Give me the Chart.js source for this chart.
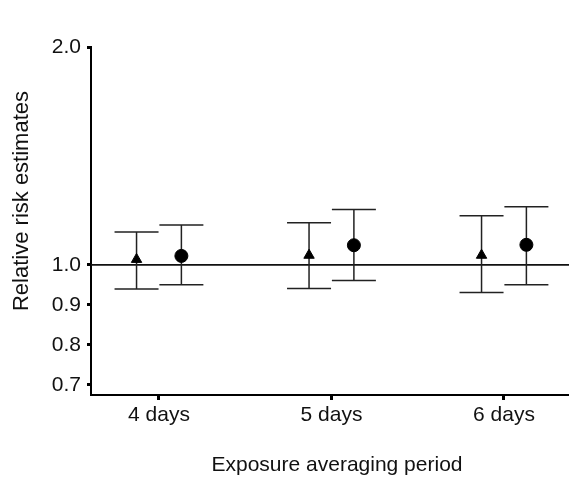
<!DOCTYPE html>
<html>
<head>
<meta charset="utf-8">
<title>Relative risk estimates by exposure averaging period</title>
<script src="https://cdn.jsdelivr.net/npm/chart.js@4"></script>
<style>
  html, body { margin: 0; padding: 0; background: #fff; }
  #rrChart { display: block; }
</style>
</head>
<body>
<canvas id="rrChart" width="569" height="478"></canvas>
<script>
// Averaging periods (x) and their labels
const days = [4, 5, 6];
const dayLabels = ['4 days', '5 days', '6 days'];

// Triangle series: estimate with lower / upper limits
const triEst = [1.025, 1.044, 1.044];
const triLow = [0.94, 0.941, 0.931];
const triHigh = [1.151, 1.193, 1.225];

// Circle series: estimate with lower / upper limits
const dotEst = [1.041, 1.090, 1.092];
const dotLow = [0.95, 0.961, 0.95];
const dotHigh = [1.183, 1.254, 1.267];

// Y axis tick values and the no-effect line
const yTicks = [0.7, 0.8, 0.9, 1.0, 2.0];
const referenceRR = 1.0;

const groupOffset = 0.13;   // how far each series sits from its period, in days
const FONT = "'Liberation Sans', Arial, sans-serif";

// Y axis is split at 1.0: the part below 1.0 is stretched out
class SplitScale extends Chart.LinearScale {
    getPixelForValue(value) {
        const br = 1.0, share = 0.374;
        let d;
        if (value <= br) {
            d = (value - this.min) / (br - this.min) * share;
        } else {
            d = share + (value - br) / (this.max - br) * (1 - share);
        }
        return this.getPixelForDecimal(d);
    }

    getValueForPixel(pixel) {
        const br = 1.0, share = 0.374;
        const d = this.getDecimalForPixel(pixel);
        if (d <= share) return this.min + d / share * (br - this.min);
        return br + (d - share) / (1 - share) * (this.max - br);
    }
}
SplitScale.id = 'split';
SplitScale.defaults = Chart.LinearScale.defaults;
Chart.register(SplitScale);

// Confidence intervals with end caps, and the reference line at 1.0
const errorBarPlugin = {
    id: 'errorBars',
    beforeDatasetsDraw(chart) {
        const { ctx, chartArea, scales: { y } } = chart;
        const refY = y.getPixelForValue(referenceRR);
        ctx.save();
        ctx.strokeStyle = '#111';
        ctx.lineWidth = 1.6;
        ctx.beginPath();
        ctx.moveTo(chartArea.left, refY);
        ctx.lineTo(chartArea.right, refY);
        ctx.stroke();

        const limits = [[triLow, triHigh], [dotLow, dotHigh]];
        const capHalf = 22;
        ctx.strokeStyle = '#222';
        ctx.lineWidth = 1.5;
        chart.data.datasets.forEach((ds, di) => {
            const meta = chart.getDatasetMeta(di);
            const [low, high] = limits[di];
            meta.data.forEach((pt, i) => {
                const x = pt.x;
                const yLow = y.getPixelForValue(low[i]);
                const yHigh = y.getPixelForValue(high[i]);
                ctx.beginPath();
                ctx.moveTo(x, yLow);
                ctx.lineTo(x, yHigh);
                ctx.moveTo(x - capHalf, yHigh);
                ctx.lineTo(x + capHalf, yHigh);
                ctx.moveTo(x - capHalf, yLow);
                ctx.lineTo(x + capHalf, yLow);
                ctx.stroke();
            });
        });
        ctx.restore();
    }
};

// Axis titles placed as in the original figure
const axisTitlePlugin = {
    id: 'axisTitles',
    afterDraw(chart) {
        const { ctx } = chart;
        ctx.save();
        ctx.fillStyle = '#111';
        ctx.textAlign = 'center';
        ctx.textBaseline = 'middle';
        ctx.font = '21px ' + FONT;
        ctx.fillText('Exposure averaging period', 337, 465);
        ctx.font = '22px ' + FONT;
        ctx.translate(22, 201);
        ctx.rotate(-Math.PI / 2);
        ctx.fillText('Relative risk estimates', 0, 0);
        ctx.restore();
    }
};

const ctx = document.getElementById('rrChart');
new Chart(ctx, {
    type: 'scatter',
    data: {
        datasets: [
            {
                label: 'Triangle',
                data: days.map((d, i) => ({ x: d - groupOffset, y: triEst[i] })),
                pointStyle: 'triangle',
                pointRadius: 6,
                backgroundColor: '#000',
                borderColor: '#000',
                borderWidth: 1
            },
            {
                label: 'Circle',
                data: days.map((d, i) => ({ x: d + groupOffset, y: dotEst[i] })),
                pointStyle: 'circle',
                pointRadius: 6.5,
                backgroundColor: '#000',
                borderColor: '#000',
                borderWidth: 1
            }
        ]
    },
    options: {
        responsive: false,
        animation: false,
        layout: {
            autoPadding: false,
            padding: { top: 47, right: 0, bottom: 0, left: 0 }
        },
        plugins: {
            legend: { display: false },
            tooltip: { enabled: false }
        },
        scales: {
            x: {
                type: 'linear',
                min: 3.606,
                max: 6.377,
                afterFit: (scale) => { scale.height = 83; },
                afterBuildTicks: (scale) => {
                    scale.ticks = days.map(d => ({ value: d }));
                },
                border: { display: true, color: '#000', width: 2 },
                grid: {
                    drawOnChartArea: false,
                    drawTicks: true,
                    tickLength: 5,
                    tickWidth: 3,
                    tickColor: '#000'
                },
                ticks: {
                    padding: 3,
                    color: '#111',
                    font: { family: FONT, size: 21 },
                    callback: (v, i) => dayLabels[i]
                }
            },
            y: {
                type: 'split',
                min: 0.675,
                max: 2.0,
                afterFit: (scale) => { scale.width = 91; },
                afterBuildTicks: (scale) => {
                    scale.ticks = yTicks.map(v => ({ value: v }));
                },
                border: { display: true, color: '#000', width: 2 },
                grid: {
                    drawOnChartArea: false,
                    drawTicks: true,
                    tickLength: 4,
                    tickWidth: 3,
                    tickColor: '#000'
                },
                ticks: {
                    padding: 6,
                    color: '#111',
                    font: { family: FONT, size: 21 },
                    callback: (v) => Number(v).toFixed(1)
                }
            }
        }
    },
    plugins: [errorBarPlugin, axisTitlePlugin]
});
</script>
</body>
</html>
